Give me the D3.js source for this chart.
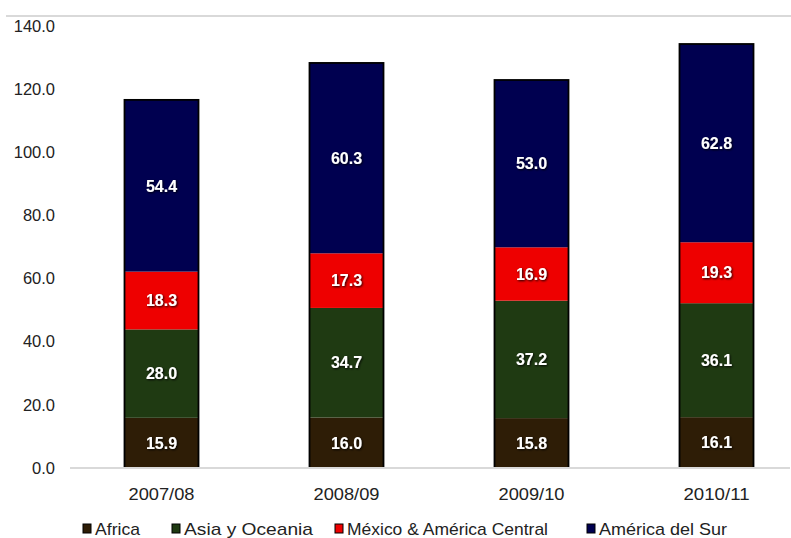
<!DOCTYPE html>
<html><head><meta charset="utf-8">
<script src="https://cdn.jsdelivr.net/npm/d3@7"></script>
<style>body{margin:0;background:#fff}svg{display:block}</style>
</head><body>
<svg id="c" width="791" height="538"></svg>
<script>
const categories = ["2007/08","2008/09","2009/10","2010/11"];
const seriesNames = ["Africa","Asia y Oceania","México & América Central","América del Sur"];
const africa = [15.9,16.0,15.8,16.1];
const asia = [28.0,34.7,37.2,36.1];
const mexico = [18.3,17.3,16.9,19.3];
const sur = [54.4,60.3,53.0,62.8];
const yTicks = [0,20,40,60,80,100,120,140];
const colors = ["#2e1d06","#1f3a12","#ee0000","#000050"];
const FONT = "'Liberation Sans', Arial, sans-serif";

const svg = d3.select("#c");
const x = d3.scaleBand().domain(categories).range([69,809]).paddingInner(0.6).paddingOuter(0.3);
const y = d3.scaleLinear().domain([0,140]).range([468,26]);

const defs = svg.append("defs");
const f = defs.append("filter").attr("id","sh").attr("x","-20%").attr("y","-20%").attr("width","140%").attr("height","140%");
f.append("feDropShadow").attr("dx",1).attr("dy",1).attr("stdDeviation",1).attr("flood-color","#000").attr("flood-opacity",0.9);

svg.append("line").attr("x1",6).attr("x2",791).attr("y1",16).attr("y2",16).attr("stroke","#d9d9d9").attr("stroke-width",2);

const data = categories.map((c,i)=>({cat:c, Africa:africa[i], "Asia y Oceania":asia[i], "México & América Central":mexico[i], "América del Sur":sur[i]}));
const stack = d3.stack().keys(seriesNames)(data);

const bw = x.bandwidth();
const cx = c => x(c) + bw/2;

stack.forEach((layer,li)=>{
  svg.append("g").selectAll("rect").data(layer).enter().append("rect")
    .attr("x",d=>x(d.data.cat)).attr("width",bw)
    .attr("y",d=>y(d[1])).attr("height",d=>y(d[0])-y(d[1]))
    .attr("fill",colors[li]);
});
const topLayer = stack[stack.length-1];
svg.append("g").selectAll("rect").data(topLayer).enter().append("rect")
  .attr("x",d=>x(d.data.cat)).attr("width",bw)
  .attr("y",d=>y(d[1])).attr("height",d=>y(0)-y(d[1]))
  .attr("fill","none").attr("stroke","#000").attr("stroke-width",1.8);

svg.append("line").attr("x1",70).attr("x2",790).attr("y1",y(0)).attr("y2",y(0)).attr("stroke","#d9d9d9").attr("stroke-width",2);

stack.forEach((layer)=>{
  svg.append("g").selectAll("text").data(layer).enter().append("text")
    .attr("x",d=>cx(d.data.cat)).attr("y",d=>(y(d[0])+y(d[1]))/2)
    .attr("dy","0.36em").attr("text-anchor","middle")
    .attr("font-family",FONT).attr("font-weight","bold").attr("font-size",16)
    .attr("fill","#fff").attr("filter","url(#sh)")
    .text(d=>(d[1]-d[0]).toFixed(1));
});

const ya = svg.append("g").attr("transform","translate(55,0)")
  .call(d3.axisLeft(y).tickValues(yTicks).tickFormat(d3.format(".1f")).tickSize(0).tickPadding(0));
ya.select(".domain").remove();
ya.selectAll("text").attr("font-family",FONT).attr("font-size",16.5).attr("fill","#222");

const xa = svg.append("g").attr("transform",`translate(0,${y(0)})`)
  .call(d3.axisBottom(x).tickSize(0).tickPadding(20));
xa.select(".domain").remove();
xa.selectAll("text").attr("font-family",FONT).attr("font-size",16.5).attr("fill","#222")
  .attr("textLength",66).attr("lengthAdjust","spacingAndGlyphs");

const legX = [83,172,335,587];
const legW = [45,129,201,128];
const lg = svg.append("g");
seriesNames.forEach((n,i)=>{
  lg.append("rect").attr("x",legX[i]).attr("y",524).attr("width",8).attr("height",9)
    .attr("fill",colors[i]).attr("stroke","#000").attr("stroke-width",1);
  lg.append("text").attr("x",legX[i]+12).attr("y",535)
    .attr("font-family",FONT).attr("font-size",17).attr("fill","#222")
    .attr("textLength",legW[i]).attr("lengthAdjust","spacingAndGlyphs").text(n);
});
</script>
</body></html>
